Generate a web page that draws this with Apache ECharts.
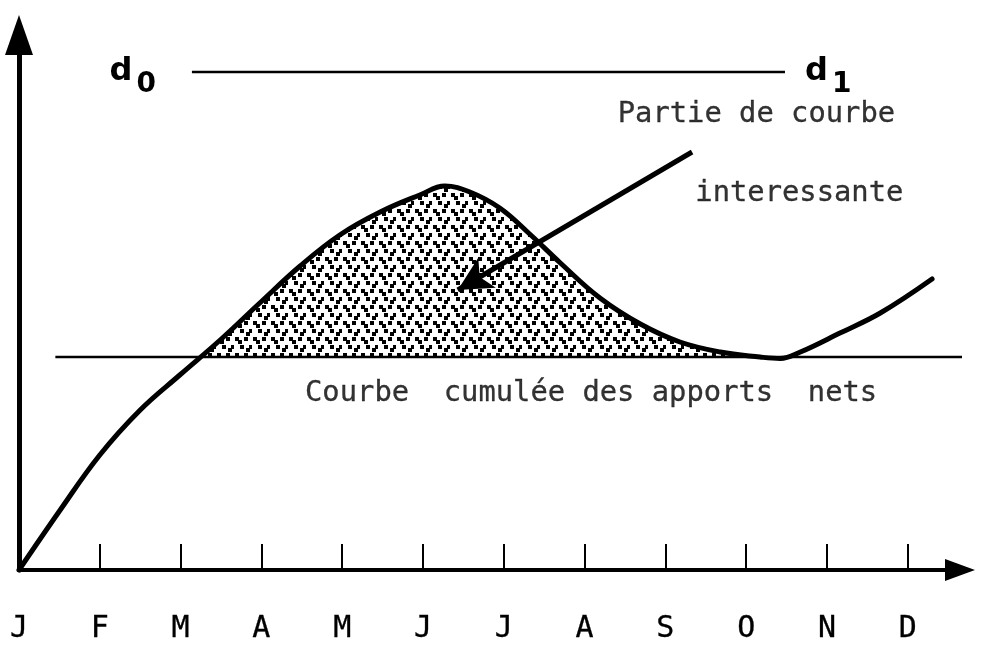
<!DOCTYPE html>
<html>
<head>
<meta charset="utf-8">
<script src="https://cdn.jsdelivr.net/npm/echarts@6/dist/echarts.min.js"></script>
<style>
  html, body { margin: 0; padding: 0; background: #fff; }
  #chart { width: 988px; height: 647px; }
</style>
</head>
<body>
<div id="chart"></div>
<script>
// Month initials along the time axis (one per month, starting at the origin)
const months = ['J', 'F', 'M', 'A', 'M', 'J', 'J', 'A', 'S', 'O', 'N', 'D'];
const monthPositions = [0, 1, 2, 3, 4, 5, 6, 7, 8, 9, 10, 11];
const tickPositions = [1, 2, 3, 4, 5, 6, 7, 8, 9, 10, 11];

// Cumulative net inflow curve: month position and cumulated value
const curveMonth = [0, 0.51, 1.0, 1.50, 1.99, 2.49, 2.98, 3.48, 3.97, 4.47, 4.96, 5.27, 5.58,
                    5.95, 6.32, 6.70, 7.19, 7.69, 8.18, 8.68, 9.17, 9.42, 9.67, 10.16, 10.66, 11.30];
const curveValue = [0, 12, 23, 32, 39, 46, 53.4, 60.8, 67, 71.6, 75, 76.8, 75.6,
                    72.4, 67.2, 61.4, 54.4, 49.2, 45.6, 43.6, 42.6, 42.3, 43.6, 47.4, 51.4, 58.2];

// Reference level line and its extent
const levelValue = 42.6;
const levelFrom = 0.45;
const levelTo = 11.71;

// Part of the curve above the level (stippled area): crossing month at each end
const shadeFrom = 2.25;
const shadeTo = 9.17;

// d0 — d1 line
const dValue = 99.6;
const dFrom = 2.14;
const dTo = 9.48;

// Pointer arrow: tail and head
const arrowTail = [8.33, 83.6];
const arrowHead = [5.43, 56];

// Text notes: anchor month, anchor value, text
const noteMonth = [7.41, 8.37, 3.54];
const noteValue = [91.0, 75.2, 35.2];
const noteText = ['Partie de courbe', 'interessante', 'Courbe  cumulée des apports  nets'];

const xMax = 11.646;
const yMax = 107;

// Stippled fill texture: round-ish dots, some joined in short diagonal pairs
function stipple() {
  const c = document.createElement('canvas');
  c.width = 18; c.height = 16;
  const g = c.getContext('2d');
  g.fillStyle = '#fff';
  g.fillRect(0, 0, 18, 16);
  g.fillStyle = '#000';
  const dots = [[1, 1], [4, 4], [10, 1], [6, 9], [15, 9], [12, 12]];
  dots.forEach(([x, y]) => g.fillRect(x, y, 4, 4));
  return c;
}

const curveData = curveMonth.map((m, i) => [m, curveValue[i]]);
const shadeData = [[shadeFrom, levelValue]].concat(
  curveData.filter(p => p[0] > shadeFrom && p[0] <= shadeTo)
);

const monoFont = '"DejaVu Sans Mono", monospace';

const chart = echarts.init(document.getElementById('chart'), null, { renderer: 'canvas' });
chart.setOption({
  backgroundColor: '#fff',
  animation: false,
  grid: { left: 19, right: 28, top: 35, bottom: 77, containLabel: false },
  xAxis: {
    type: 'value', min: 0, max: xMax, interval: 1,
    axisLine: {
      show: true, onZero: false,
      symbol: ['none', 'triangle'], symbolSize: [22, 30],
      lineStyle: { color: '#000', width: 4 }
    },
    axisTick: {
      show: true, inside: true, length: 26,
      customValues: tickPositions,
      lineStyle: { color: '#000', width: 2 }
    },
    axisLabel: {
      show: true, margin: 44,
      customValues: monthPositions,
      formatter: v => months[Math.round(v)],
      color: '#000', fontFamily: monoFont, fontSize: 30,
      textBorderColor: '#000', textBorderWidth: 0.3
    },
    splitLine: { show: false }
  },
  yAxis: {
    type: 'value', min: 0, max: yMax,
    axisLine: {
      show: true, onZero: false,
      symbol: ['none', 'triangle'], symbolSize: [28, 40],
      lineStyle: { color: '#000', width: 5 }
    },
    axisTick: { show: false },
    axisLabel: { show: false },
    splitLine: { show: false }
  },
  series: [
    {
      name: 'zone',
      type: 'line',
      data: shadeData,
      smooth: 0.4,
      symbol: 'none',
      z: 1,
      lineStyle: { width: 0 },
      areaStyle: { color: { image: stipple(), repeat: 'repeat' }, origin: levelValue, opacity: 1 }
    },
    {
      name: 'niveau',
      type: 'line',
      data: [[levelFrom, levelValue], [levelTo, levelValue]],
      symbol: 'none',
      z: 2,
      lineStyle: { color: '#000', width: 2.5 }
    },
    {
      name: 'courbe',
      type: 'line',
      data: curveData,
      smooth: 0.4,
      symbol: 'none',
      z: 3,
      lineStyle: { color: '#000', width: 5, join: 'round', cap: 'round' }
    },
    {
      name: 'd',
      type: 'line',
      data: [
        { value: [dFrom, dValue], label: { show: true, position: 'left', distance: 36, formatter: '{d|d}{s|0}' } },
        { value: [dTo, dValue], label: { show: true, position: 'right', distance: 20, formatter: '{d|d}{s|1}' } }
      ],
      symbol: 'circle',
      symbolSize: 0,
      showSymbol: true,
      z: 3,
      lineStyle: { color: '#000', width: 2.5 },
      label: {
        show: true,
        rich: {
          d: { fontFamily: '"DejaVu Sans", sans-serif', fontWeight: 'bold', fontSize: 32, color: '#000' },
          s: { fontFamily: '"DejaVu Sans", sans-serif', fontWeight: 'bold', fontSize: 28, color: '#000', padding: [26, 0, 0, 4] }
        }
      }
    },
    {
      name: 'flèche',
      type: 'line',
      data: [],
      markLine: {
        silent: true,
        animation: false,
        symbol: ['none', 'arrow'],
        symbolSize: [26, 34],
        label: { show: false },
        lineStyle: { color: '#000', width: 5, type: 'solid' },
        data: [[{ coord: arrowTail }, { coord: arrowHead }]]
      }
    },
    {
      name: 'notes',
      type: 'scatter',
      symbolSize: 0,
      z: 4,
      data: noteMonth.map((m, i) => ({ value: [m, noteValue[i]], name: noteText[i] })),
      label: {
        show: true, position: 'right', distance: 0,
        formatter: '{b}',
        color: '#000', fontFamily: monoFont, fontSize: 28.8,
        textBorderColor: '#000', textBorderWidth: 0.3
      }
    }
  ]
});
</script>
</body>
</html>
